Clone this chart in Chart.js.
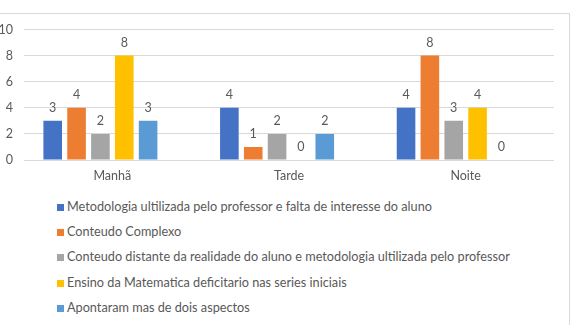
<!DOCTYPE html>
<html>
<head>
<meta charset="utf-8">
<script src="https://cdn.jsdelivr.net/npm/chart.js@4"></script>
<style>
  body { margin: 0; background: #fff; overflow: hidden; }
  #frame { position: absolute; left: -5px; top: 13px; width: 575px; height: 330px; border: 1px solid #d9d9d9; box-sizing: border-box; }
  #wrap { position: absolute; left: -10px; top: 0; width: 583px; height: 183px; }
  #legend { position: absolute; left: 57px; top: 198px; font-family: Lato, sans-serif; font-size: 12.7px; color: #595959; }
  #legend div { height: 25.2px; line-height: 16px; white-space: nowrap; }
  #legend span.box { display: inline-block; width: 7px; height: 7px; margin-right: 3px; vertical-align: 0px; }
</style>
</head>
<body>
<div id="frame"></div>
<div id="wrap"><canvas id="grafico"></canvas></div>
<div id="legend"></div>
<script>
var turnos = ['Manhã', 'Tarde', 'Noite'];
var metodologia = [3, 4, 4];
var complexo = [4, 1, 8];
var distante = [2, 2, 3];
var ensino = [8, 0, 4];
var apontaram = [3, 2, 0];
var yTicks = [0, 2, 4, 6, 8, 10];

var nomes = [
    'Metodologia ultilizada pelo professor e falta de interesse do aluno',
    'Conteudo Complexo',
    'Conteudo distante da realidade do aluno e metodologia ultilizada pelo professor',
    'Ensino da Matematica deficitario nas series iniciais',
    'Apontaram mas de dois aspectos'
];
var cores = ['#4472C4', '#ED7D31', '#A5A5A5', '#FFC000', '#5B9BD5'];
var valores = [metodologia, complexo, distante, ensino, apontaram];

var datasets = valores.map(function (v, i) {
    return { label: nomes[i], data: v, backgroundColor: cores[i], borderWidth: 0 };
});
// empty slot: Excel leaves room for one more series at the right of each group
datasets.push({ label: '', data: [null, null, null], backgroundColor: 'rgba(0,0,0,0)' });

var rotulos = {
    id: 'rotulos',
    afterDatasetsDraw: function (chart) {
        var ctx = chart.ctx;
        ctx.save();
        ctx.font = '12.5px Lato, sans-serif';
        ctx.fillStyle = '#595959';
        ctx.textAlign = 'center';
        ctx.textBaseline = 'middle';
        chart.data.datasets.forEach(function (ds, i) {
            if (!ds.label) return;
            chart.getDatasetMeta(i).data.forEach(function (bar, j) {
                ctx.fillText(String(ds.data[j]), bar.x, bar.y - 13);
            });
        });
        ctx.restore();
    }
};

var ctx = document.getElementById('grafico').getContext('2d');
var grafico = new Chart(ctx, {
    type: 'bar',
    data: { labels: turnos, datasets: datasets },
    options: {
        responsive: true,
        maintainAspectRatio: false,
        animation: false,
        layout: { padding: { top: 29.5, right: 19, bottom: 0, left: 0 } },
        datasets: { bar: { categoryPercentage: 0.81, barPercentage: 0.78 } },
        plugins: { legend: { display: false }, tooltip: { enabled: false } },
        scales: {
            x: {
                grid: { display: false },
                border: { display: false },
                ticks: { color: '#595959', font: { family: 'Lato', size: 12.5 }, padding: 0 }
            },
            y: {
                min: 0,
                max: 10,
                afterBuildTicks: function (axis) {
                    axis.ticks = yTicks.map(function (v) { return { value: v }; });
                },
                afterFit: function (axis) { axis.width = 34; },
                grid: { color: '#d9d9d9', drawTicks: false },
                border: { display: false },
                ticks: { color: '#595959', font: { family: 'Lato', size: 12.5 }, padding: 11 }
            }
        }
    },
    plugins: [rotulos]
});

var legenda = document.getElementById('legend');
nomes.forEach(function (n, i) {
    var row = document.createElement('div');
    var box = document.createElement('span');
    box.className = 'box';
    box.style.background = cores[i];
    row.appendChild(box);
    row.appendChild(document.createTextNode(n));
    legenda.appendChild(row);
});
</script>
</body>
</html>
